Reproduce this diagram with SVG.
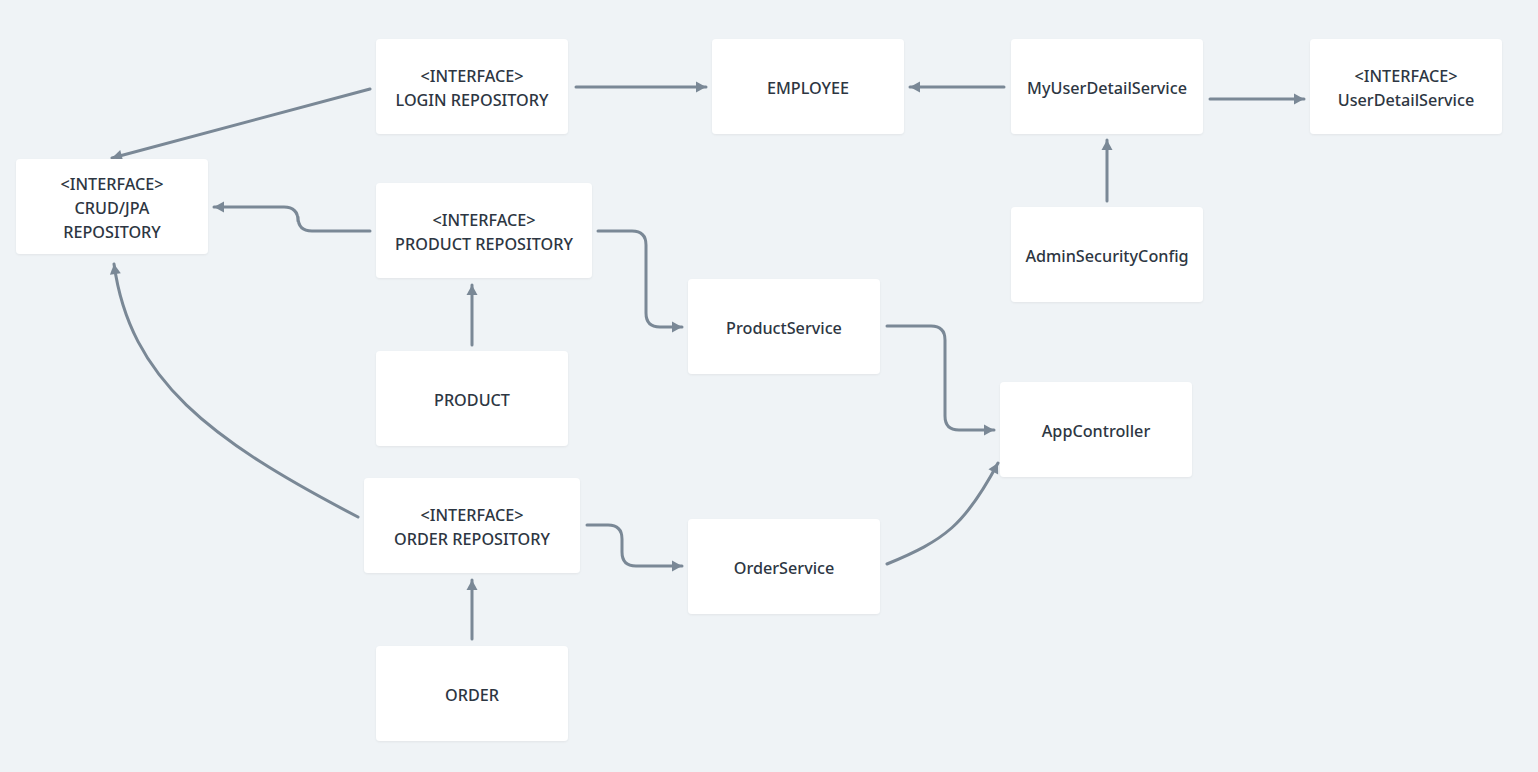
<svg xmlns="http://www.w3.org/2000/svg" width="1538" height="772" viewBox="0 0 1538 772">
<defs>
<marker id="ah" markerUnits="userSpaceOnUse" markerWidth="14" markerHeight="14" viewBox="0 0 14 14" refX="11" refY="7" orient="auto">
<path d="M1,1.5 L11,7 L1,12.5 Z" fill="#7a8896"/>
</marker>
<filter id="sh" x="-10%" y="-10%" width="120%" height="130%">
<feDropShadow dx="0" dy="1" stdDeviation="1" flood-color="#000" flood-opacity="0.06"/>
</filter>
</defs>
<style>
.bx{fill:#ffffff;filter:url(#sh)}
.t{font-family:"Noto Sans","Liberation Sans",sans-serif;font-size:16.2px;font-weight:500;fill:#2d3642;text-anchor:middle;dominant-baseline:central}
.c{fill:none;stroke:#7a8896;stroke-width:3;stroke-linecap:round;stroke-linejoin:round;marker-end:url(#ah)}
</style>
<rect width="1538" height="772" fill="#eff3f6"/>
<g id="connectors">
<path class="c" d="M370,89 L112,158"/>
<path class="c" d="M576,87 L706,87"/>
<path class="c" d="M1004,87 L910,87"/>
<path class="c" d="M1210,99 L1304,99"/>
<path class="c" d="M1107,201 L1107,140"/>
<path class="c" d="M370,231 L312,231 Q298,231 298,217 L298,221 Q298,207 284,207 L214,207"/>
<path class="c" d="M598,231 L632,231 Q646,231 646,245 L646,313 Q646,327 660,327 L682,327"/>
<path class="c" d="M472,345 L472,285"/>
<path class="c" d="M887,326 L931,326 Q945,326 945,340 L945,416 Q945,430 959,430 L994,430"/>
<path class="c" d="M358,517 C210,440 130,380 114,264"/>
<path class="c" d="M587,525 L608,525 Q622,525 622,539 L622,552 Q622,566 636,566 L682,566"/>
<path class="c" d="M472,639 L472,580"/>
<path class="c" d="M887,564 C945,540 965,525 998,463"/>
</g>
<g id="crud"><rect class="bx" x="16" y="159" width="192" height="95" rx="4"/><text class="t" x="112" y="184">&lt;INTERFACE&gt;</text><text class="t" x="112" y="208">CRUD/JPA</text><text class="t" x="112" y="232">REPOSITORY</text></g>
<g id="login"><rect class="bx" x="376" y="39" width="192" height="95" rx="4"/><text class="t" x="472" y="76">&lt;INTERFACE&gt;</text><text class="t" x="472" y="100">LOGIN REPOSITORY</text></g>
<g id="employee"><rect class="bx" x="712" y="39" width="192" height="95" rx="4"/><text class="t" x="808" y="88">EMPLOYEE</text></g>
<g id="myuser"><rect class="bx" x="1011" y="39" width="192" height="95" rx="4"/><text class="t" x="1107" y="88">MyUserDetailService</text></g>
<g id="userdetail"><rect class="bx" x="1310" y="39" width="192" height="95" rx="4"/><text class="t" x="1406" y="76">&lt;INTERFACE&gt;</text><text class="t" x="1406" y="100">UserDetailService</text></g>
<g id="productrepo"><rect class="bx" x="376" y="183" width="216" height="95" rx="4"/><text class="t" x="484" y="220">&lt;INTERFACE&gt;</text><text class="t" x="484" y="244">PRODUCT REPOSITORY</text></g>
<g id="admin"><rect class="bx" x="1011" y="207" width="192" height="95" rx="4"/><text class="t" x="1107" y="256">AdminSecurityConfig</text></g>
<g id="productservice"><rect class="bx" x="688" y="279" width="192" height="95" rx="4"/><text class="t" x="784" y="328">ProductService</text></g>
<g id="product"><rect class="bx" x="376" y="351" width="192" height="95" rx="4"/><text class="t" x="472" y="400">PRODUCT</text></g>
<g id="appcontroller"><rect class="bx" x="1000" y="382" width="192" height="95" rx="4"/><text class="t" x="1096" y="431">AppController</text></g>
<g id="orderrepo"><rect class="bx" x="364" y="478" width="216" height="95" rx="4"/><text class="t" x="472" y="515">&lt;INTERFACE&gt;</text><text class="t" x="472" y="539">ORDER REPOSITORY</text></g>
<g id="orderservice"><rect class="bx" x="688" y="519" width="192" height="95" rx="4"/><text class="t" x="784" y="568">OrderService</text></g>
<g id="order"><rect class="bx" x="376" y="646" width="192" height="95" rx="4"/><text class="t" x="472" y="695">ORDER</text></g>
</svg>
